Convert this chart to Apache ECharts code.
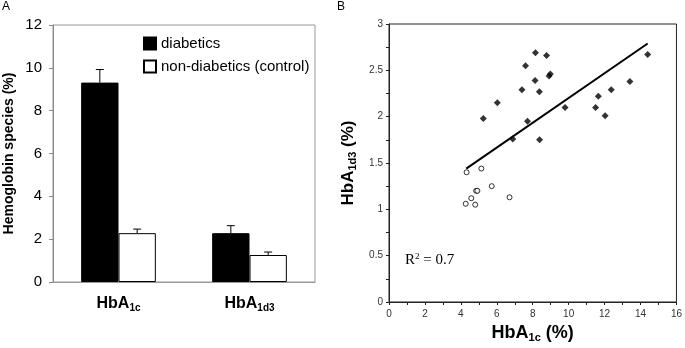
<!DOCTYPE html>
<html>
<head>
<meta charset="utf-8">
<script src="https://cdn.jsdelivr.net/npm/echarts@6/dist/echarts.min.js"></script>
<style>
  html, body { margin: 0; padding: 0; background: #fff; }
  #main { width: 685px; height: 348px; }
</style>
</head>
<body>
<div id="main"></div>
<script>
// panel A: bar values (%) and upper error
var categories = ["HbA1c", "HbA1d3"];
var diabetics = [9.31, 2.28];
var diabeticsErr = [0.61, 0.35];
var control = [2.28, 1.26];
var controlErr = [0.19, 0.14];

// panel B: HbA1c vs HbA1d3 per subject
var diabHbA1c = [5.25, 6.03, 6.89, 7.40, 7.60, 7.71, 8.15, 8.13, 8.37, 8.38, 8.77, 8.91, 8.98, 9.80, 11.50, 11.65, 12.03, 12.37, 13.41, 14.40];
var diabHbA1d3 = [1.98, 2.15, 1.76, 2.29, 2.55, 1.95, 2.69, 2.39, 2.27, 1.75, 2.66, 2.44, 2.46, 2.10, 2.10, 2.22, 2.01, 2.29, 2.38, 2.67];
var ctrlHbA1c = [4.32, 5.14, 5.72, 4.85, 4.92, 4.58, 6.71, 4.27, 4.80];
var ctrlHbA1d3 = [1.40, 1.44, 1.25, 1.20, 1.20, 1.12, 1.13, 1.06, 1.05];
var trendX = [4.3, 14.4];
var trendY = [1.44, 2.79];

var FONT = "Liberation Sans, Arial, sans-serif";
var CAT_GAP = 0.43; // barCategoryGap

function zip(a, b) {
  var res = [];
  for (var i = 0; i < a.length; i++) res.push([a[i], b[i]]);
  return res;
}

function errData(vals, errs, side) {
  var res = [];
  for (var i = 0; i < vals.length; i++) {
    res.push([i, vals[i], vals[i] + errs[i], side]);
  }
  return res;
}

function renderErr(params, api) {
  var xi = api.value(0);
  var base = api.coord([xi, api.value(1)]);
  var top = api.coord([xi, api.value(2)]);
  var band = api.size([1, 0])[0];
  var bw = band * (1 - CAT_GAP) / 2;
  var x = base[0] + api.value(3) * bw / 2;
  return {
    type: "group",
    children: [
      { type: "line", shape: { x1: x, y1: base[1], x2: x, y2: top[1] }, style: { stroke: "#000", lineWidth: 1 } },
      { type: "line", shape: { x1: x - 4, y1: top[1], x2: x + 4, y2: top[1] }, style: { stroke: "#000", lineWidth: 1 } }
    ]
  };
}

var subRich = {
  b: { fontFamily: FONT, fontWeight: "bold", fontSize: 16, color: "#000" },
  s: { fontFamily: FONT, fontWeight: "bold", fontSize: 10, color: "#000", padding: [8, 0, 0, 0] }
};

var chart = echarts.init(document.getElementById("main"));
var option = {
  animation: false,
  textStyle: { fontFamily: FONT },
  graphic: [
    { type: "text", left: 2, top: 1, style: { text: "A", fontFamily: FONT, fontSize: 12, fill: "#000" } },
    { type: "text", left: 337, top: 1, style: { text: "B", fontFamily: FONT, fontSize: 12, fill: "#000" } },
    {
      type: "text", left: 405, top: 252,
      style: {
        text: "{r|R}{p|2}{r| = 0.7}",
        rich: {
          r: { fontFamily: "Liberation Serif, Times New Roman, serif", fontSize: 15, fill: "#000" },
          p: { fontFamily: "Liberation Serif, Times New Roman, serif", fontSize: 9, fill: "#000", padding: [0, 0, 7, 0] }
        }
      }
    }
  ],
  legend: {
    left: 138,
    top: 31,
    orient: "vertical",
    itemWidth: 12,
    itemHeight: 12,
    itemGap: 8,
    icon: "rect",
    selectedMode: false,
    textStyle: { fontFamily: FONT, fontSize: 15, color: "#000" },
    data: ["diabetics", "non-diabetics (control)"]
  },
  grid: [
    { left: 53, top: 25, width: 262, height: 257, show: true, borderColor: "#999", borderWidth: 1 },
    { left: 389, top: 24, width: 293, height: 283, show: true, borderColor: "#222", borderWidth: 1 }
  ],
  xAxis: [
    {
      gridIndex: 0,
      type: "category",
      data: categories,
      axisLine: { lineStyle: { color: "#999" } },
      axisTick: { show: false },
      axisLabel: {
        margin: 13,
        formatter: function (v) {
          return "{b|HbA}{s|" + v.slice(3) + "}";
        },
        rich: subRich
      }
    },
    {
      gridIndex: 1,
      type: "value",
      min: 0,
      max: 16,
      interval: 2,
      splitLine: { show: false },
      axisLine: { lineStyle: { color: "#222" } },
      axisTick: { length: 3, lineStyle: { color: "#222" } },
      minorTick: { show: true, splitNumber: 2, length: 3, lineStyle: { color: "#222" } },
      axisLabel: { fontSize: 10, color: "#333", margin: 7 },
      name: "{b|HbA}{s|1c}{b| (%)}",
      nameLocation: "middle",
      nameGap: 21,
      nameTextStyle: {
        rich: {
          b: { fontFamily: FONT, fontWeight: "bold", fontSize: 18, color: "#000" },
          s: { fontFamily: FONT, fontWeight: "bold", fontSize: 11, color: "#000", padding: [9, 0, 0, 0] }
        }
      }
    }
  ],
  yAxis: [
    {
      gridIndex: 0,
      type: "value",
      min: 0,
      max: 12,
      interval: 2,
      splitLine: { show: false },
      axisLine: { show: true, lineStyle: { color: "#888" } },
      axisTick: { show: true, length: 4, lineStyle: { color: "#888" } },
      axisLabel: { fontSize: 15, color: "#000", margin: 11 },
      name: "Hemoglobin species (%)",
      nameLocation: "middle",
      nameGap: 37,
      nameTextStyle: { fontFamily: FONT, fontWeight: "bold", fontSize: 14, color: "#000" }
    },
    {
      gridIndex: 1,
      type: "value",
      min: 0,
      max: 3,
      interval: 0.5,
      splitLine: { show: false },
      axisLine: { show: true, lineStyle: { color: "#222" } },
      axisTick: { show: true, length: 3, lineStyle: { color: "#222" } },
      minorTick: { show: true, splitNumber: 2, length: 3, lineStyle: { color: "#222" } },
      axisLabel: { fontSize: 10, color: "#333", margin: 6 },
      name: "{b|HbA}{s|1d3}{b| (%)}",
      nameLocation: "middle",
      nameGap: 31,
      nameTextStyle: {
        rich: {
          b: { fontFamily: FONT, fontWeight: "bold", fontSize: 17, color: "#000" },
          s: { fontFamily: FONT, fontWeight: "bold", fontSize: 11, color: "#000", padding: [9, 0, 0, 0] }
        }
      }
    }
  ],
  series: [
    {
      name: "diabetics",
      type: "bar",
      xAxisIndex: 0,
      yAxisIndex: 0,
      barGap: "0%",
      barCategoryGap: "43%",
      itemStyle: { color: "#000", borderColor: "#000", borderWidth: 1 },
      data: diabetics
    },
    {
      name: "non-diabetics (control)",
      type: "bar",
      xAxisIndex: 0,
      yAxisIndex: 0,
      barGap: "0%",
      barCategoryGap: "43%",
      itemStyle: { color: "#fff", borderColor: "#000", borderWidth: 1 },
      data: control
    },
    {
      type: "custom",
      xAxisIndex: 0,
      yAxisIndex: 0,
      z: 5,
      renderItem: renderErr,
      data: errData(diabetics, diabeticsErr, -1).concat(errData(control, controlErr, 1))
    },
    {
      type: "line",
      xAxisIndex: 1,
      yAxisIndex: 1,
      showSymbol: false,
      lineStyle: { color: "#000", width: 2 },
      data: zip(trendX, trendY)
    },
    {
      type: "scatter",
      xAxisIndex: 1,
      yAxisIndex: 1,
      symbol: "diamond",
      symbolSize: 7,
      itemStyle: { color: "#000" },
      data: zip(diabHbA1c, diabHbA1d3)
    },
    {
      type: "scatter",
      xAxisIndex: 1,
      yAxisIndex: 1,
      symbol: "circle",
      symbolSize: 5,
      itemStyle: { color: "#fff", borderColor: "#000", borderWidth: 1 },
      data: zip(ctrlHbA1c, ctrlHbA1d3)
    }
  ]
};
chart.setOption(option);
</script>
</body>
</html>
